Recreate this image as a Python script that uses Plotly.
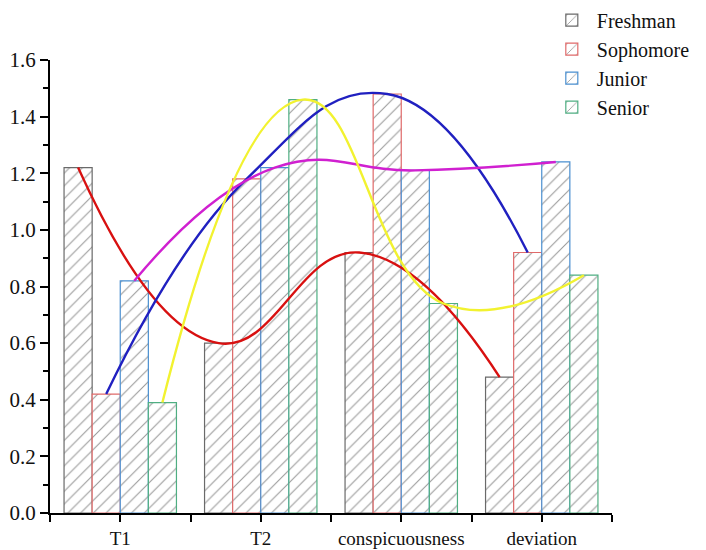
import plotly.graph_objects as go

categories = ["T1", "T2", "conspicuousness", "deviation"]
series = ["Freshman", "Sophomore", "Junior", "Senior"]
freshman = [1.22, 0.60, 0.92, 0.48]
sophomore = [0.42, 1.18, 1.48, 0.92]
junior = [0.82, 1.22, 1.21, 1.24]
senior = [0.39, 1.46, 0.74, 0.84]
y_ticks = [0.0, 0.2, 0.4, 0.6, 0.8, 1.0, 1.2, 1.4, 1.6]

values = [freshman, sophomore, junior, senior]
edge_colors = ["#6a6a6a", "#e06a6a", "#4a8fd0", "#4fae82"]
curve_colors = ["#d81010", "#2020c0", "#d020d0", "#f2f230"]

FONT = "Liberation Serif"
n = len(series)
bar_w = 0.2
x_idx = list(range(len(categories)))

fig = go.Figure()
for i, (name, vals) in enumerate(zip(series, values)):
    fig.add_trace(go.Bar(
        x=x_idx, y=vals, name=name, width=bar_w,
        marker=dict(color="white",
                    line=dict(color=edge_colors[i], width=1.2),
                    pattern=dict(shape="/", fgcolor="#333333", bgcolor="white",
                                 size=9, solidity=0.12)),
    ))

for i, vals in enumerate(values):
    off = (i - (n - 1) / 2) * bar_w
    fig.add_trace(go.Scatter(
        x=[xx + off for xx in x_idx], y=vals, mode="lines",
        line=dict(color=curve_colors[i], width=2.4, shape="spline", smoothing=1.3),
        showlegend=False, hoverinfo="skip",
    ))

fig.update_layout(
    width=698, height=542,
    margin=dict(l=42, r=94, t=52, b=37, autoexpand=False),
    paper_bgcolor="white", plot_bgcolor="white",
    barmode="group", bargap=0.2, bargroupgap=0,
    font=dict(family=FONT, size=18, color="#111"),
    legend=dict(x=0.884, xanchor="left", y=1.131, yanchor="top",
                font=dict(family=FONT, size=20, color="#111"),
                bgcolor="rgba(0,0,0,0)", tracegroupgap=0, itemwidth=40),
    xaxis=dict(range=[-0.5, 3.5], tickmode="array", tickvals=x_idx, ticktext=categories,
               showline=True, linecolor="black", linewidth=2, ticks="outside",
               ticklen=7, tickwidth=2, tickcolor="black", showgrid=False, zeroline=False,
               automargin=False,
               minor=dict(tickmode="array", tickvals=[-0.5, 0.5, 1.5, 2.5, 3.5],
                          ticks="outside", ticklen=7, tickwidth=2, tickcolor="black"),
               tickfont=dict(family=FONT, size=19)),
    yaxis=dict(range=[0, 1.6], tickmode="array", tickvals=y_ticks,
               ticktext=[f"{v:.1f}" for v in y_ticks],
               showline=True, linecolor="black", linewidth=2, ticks="outside",
               ticklen=8, tickwidth=2, tickcolor="black", showgrid=False, zeroline=False,
               automargin=False,
               minor=dict(dtick=0.1, ticks="outside", ticklen=5, tickwidth=1.5,
                          tickcolor="black", showgrid=False),
               tickfont=dict(family=FONT, size=21)),
)

fig.write_html("out.html")
